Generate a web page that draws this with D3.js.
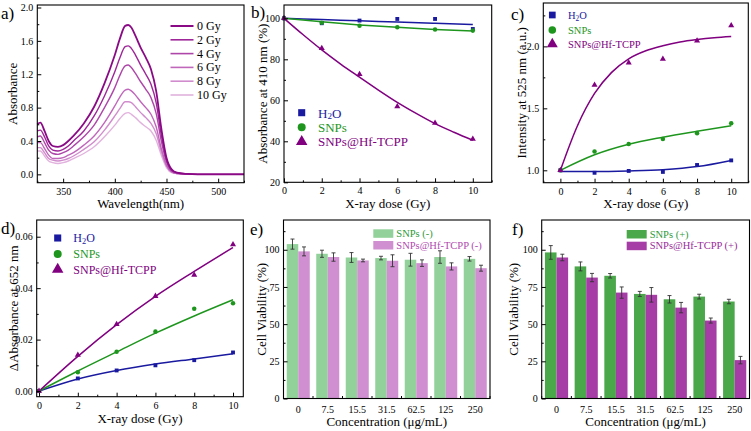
<!DOCTYPE html>
<html><head><meta charset="utf-8">
<script src="https://cdn.jsdelivr.net/npm/d3@7"></script>
<style>
body{margin:0;background:#fff;}
svg{display:block;font-family:"Liberation Serif","Times New Roman",serif;}
</style></head><body>
<svg id="chart" width="751" height="431"></svg>
<script>
// ---------- DATA ----------
// (a) UV-vis spectra
const wavelengths = [325,328,332,336,340,345,350,355,360,370,380,390,400,405,410,413,416,420,425,430,435,440,445,450,455,460,470,480,500,525];
const spectraLabels = ["0 Gy","2 Gy","4 Gy","6 Gy","8 Gy","10 Gy"];
const abs0Gy  = [0.60,0.62,0.52,0.40,0.34,0.33,0.35,0.40,0.46,0.61,0.81,1.09,1.43,1.63,1.78,1.79,1.76,1.66,1.52,1.40,1.26,1.00,0.55,0.20,0.06,0.02,0.005,0,0,0];
const abs2Gy  = [0.52,0.53,0.45,0.34,0.29,0.28,0.30,0.34,0.40,0.52,0.70,0.94,1.23,1.40,1.53,1.54,1.51,1.43,1.31,1.20,1.08,0.86,0.47,0.17,0.05,0.02,0.004,0,0,0];
const abs4Gy  = [0.45,0.46,0.38,0.29,0.25,0.24,0.26,0.29,0.34,0.45,0.59,0.80,1.04,1.19,1.30,1.31,1.28,1.21,1.11,1.02,0.92,0.73,0.40,0.15,0.04,0.015,0.004,0,0,0];
const abs6Gy  = [0.38,0.38,0.31,0.23,0.19,0.19,0.20,0.23,0.26,0.35,0.46,0.62,0.82,0.93,1.01,1.02,1.00,0.95,0.87,0.80,0.72,0.57,0.31,0.11,0.03,0.01,0.003,0,0,0];
const abs8Gy  = [0.32,0.32,0.26,0.19,0.17,0.16,0.17,0.19,0.22,0.30,0.39,0.53,0.70,0.79,0.87,0.87,0.86,0.81,0.74,0.68,0.61,0.49,0.27,0.10,0.03,0.01,0.002,0,0,0];
const abs10Gy = [0.28,0.28,0.22,0.16,0.14,0.13,0.14,0.16,0.19,0.25,0.33,0.45,0.59,0.67,0.73,0.74,0.72,0.68,0.62,0.57,0.52,0.41,0.23,0.08,0.02,0.01,0.002,0,0,0];

// X-ray doses
const doses = [0,2,4,6,8,10];
const fitDoses = [0,1,2,3,4,5,6,7,8,9,10];
const seriesNames = ["H2O","SNPs","SNPs@Hf-TCPP"];

// (b) Absorbance at 410 nm (%)
const bH2O  = [100, 97.6, 98.9, 99.7, 99.7, 94.8];
const bSNPs = [100, 97.8, 96.4, 95.6, 94.5, 94.0];
const bHf   = [100, 85.4, 72.7, 57.0, 48.9, 41.1];
const bFitH2O  = [100, 99.4, 98.8, 98.2, 97.6, 97.0];
const bFitSNPs = [100, 98.3, 96.8, 95.6, 94.6, 93.8];
const bFitHf   = [100, 92.1, 84.6, 77.7, 71.3, 65.0, 59.0, 53.6, 48.6, 44.4, 40.5];

// (c) Intensity at 525 nm
const cH2O  = [1.0, 0.98, 0.995, 0.987, 1.043, 1.08];
const cSNPs = [1.0, 1.152, 1.213, 1.253, 1.30, 1.379];
const cHf   = [1.0, 1.688, 1.867, 1.899, 2.045, 2.168];
const cFitH2O  = [0.99, 0.99, 0.995, 1.005, 1.03, 1.08];
const cFitSNPs = [1.0, 1.125, 1.21, 1.267, 1.315, 1.36];
const cFitHf   = [1.0, 1.36, 1.62, 1.79, 1.90, 1.965, 2.005, 2.035, 2.055, 2.07, 2.08];

// (d) ΔAbsorbance at 652 nm
const dH2O  = [0, 0.0049, 0.008, 0.010, 0.012, 0.015];
const dSNPs = [0, 0.0073, 0.0153, 0.0231, 0.032, 0.0341];
const dHf   = [0, 0.014, 0.026, 0.0369, 0.0451, 0.057];
const dFitH2O  = [0, 0.0047, 0.0080, 0.0105, 0.0125, 0.0145];
const dFitSNPs = [0, 0.0078, 0.0152, 0.0225, 0.0292, 0.0355];
const dFitHf   = [0, 0.0135, 0.0258, 0.0368, 0.0465, 0.0558];

// (e),(f) Cell viability
const concentrations = ["0","7.5","15.5","31.5","62.5","125","250"];
const eSNPs = [103.8, 97.3, 94.8, 94.4, 93.3, 95.1, 93.9];
const eSNPsErr = [3.4, 2.4, 3.3, 1.2, 4.3, 4.2, 1.5];
const eHf = [98.9, 95.1, 92.8, 92.6, 91.0, 88.8, 87.6];
const eHfErr = [3.0, 2.8, 0.9, 4.0, 2.2, 2.4, 2.0];
const fSNPs = [98.2, 88.8, 82.5, 70.3, 66.7, 68.5, 65.2];
const fSNPsErr = [4.6, 3.0, 1.5, 1.7, 2.5, 1.6, 1.5];
const fHf = [94.8, 81.3, 71.2, 69.7, 61.1, 52.4, 25.8];
const fHfErr = [2.2, 2.8, 3.8, 4.9, 3.5, 1.7, 2.5];

// Tick labels
const aXTicks = [350,400,450,500], aYTicks = [0,0.4,0.8,1.2,1.6,2.0];
const doseTicks = [0,2,4,6,8,10];
const bYTicks = [20,40,60,80,100];
const cYTicks = [1.0,1.5,2.0];
const dYTicks = [0,0.02,0.04,0.06];
const viaTicks = [0,25,50,75,100];

// ---------- STYLE ----------
const BLUE = "#1a1aa0", GREEN = "#1e961e", PURPLE = "#800080";
const specColors = ["#8a0a86","#9e2699","#ae46a9","#c066bb","#d18ccd","#e2b2de"];
const svg = d3.select("#chart");

function axes(g, x, y, o) {
  const [xl, xr] = x.range(), [yb, yt] = y.range();
  const st = s => { s.select(".domain").remove(); s.attr("font-family", null).attr("font-size", 10);
    s.selectAll("text").attr("fill", "#000"); s.selectAll("line").attr("stroke", "#000"); };
  if (o.xMajor) {
    g.append("g").attr("transform", `translate(0,${yb})`)
      .call(d3.axisBottom(x).tickValues(o.xMajor).tickSize(-4).tickPadding(5).tickFormat(o.xFmt || d3.format("d"))).call(st);
    g.append("g").attr("transform", `translate(0,${yb})`)
      .call(d3.axisBottom(x).tickValues(o.xMinor).tickSize(-2).tickFormat("")).call(st);
  }
  g.append("g").attr("transform", `translate(${xl},0)`)
    .call(d3.axisLeft(y).tickValues(o.yMajor).tickSize(-4).tickPadding(4).tickFormat(o.yFmt)).call(st);
  g.append("g").attr("transform", `translate(${xl},0)`)
    .call(d3.axisLeft(y).tickValues(o.yMinor).tickSize(-2).tickFormat("")).call(st);
  g.append("rect").attr("x", xl).attr("y", yt).attr("width", xr - xl).attr("height", yb - yt)
    .attr("fill", "none").attr("stroke", "#000").attr("stroke-width", 1.1);
  g.append("text").attr("x", (xl + xr) / 2).attr("y", o.xTitleY).attr("text-anchor", "middle")
    .attr("font-size", 13).text(o.xTitle);
  g.append("text").attr("transform", `translate(${o.yTitleX},${(yt + yb) / 2}) rotate(-90)`)
    .attr("text-anchor", "middle").attr("dominant-baseline", "central").attr("font-size", 13).text(o.yTitle);
}
function panelLabel(x, y, t) {
  svg.append("text").attr("x", x).attr("y", y).attr("font-size", 17).text(t);
}
function h2oText(sel) {
  sel.append("tspan").text("H");
  sel.append("tspan").text("2").attr("font-size", "0.7em").attr("dy", 3);
  sel.append("tspan").text("O").attr("dy", -3);
}
const symTypes = [d3.symbolSquare, d3.symbolCircle, d3.symbolTriangle];
const symSizes = [15, 16, 16];
const serColors = [BLUE, GREEN, PURPLE];

function doseLegend(g, sx, tx, ys, fs, symSize) {
  seriesNames.forEach((n, i) => {
    g.append("path").attr("d", d3.symbol().type(symTypes[i]).size(symSize * (i === 2 ? 1.15 : 1))())
      .attr("transform", `translate(${sx},${ys[i]})`).attr("fill", serColors[i]);
    const t = g.append("text").attr("x", tx).attr("y", ys[i]).attr("dominant-baseline", "central")
      .attr("font-size", fs).attr("fill", serColors[i]);
    if (i === 0) h2oText(t); else t.text(n);
  });
}
function dosePanel(g, x, y, pts, fits, fitXs) {
  const line = d3.line().x(d => x(d[0])).y(d => y(d[1])).curve(d3.curveMonotoneX);
  fits.forEach((f, i) => {
    g.append("path").datum(fitXs[i].map((d, k) => [d, f[k]])).attr("d", line)
      .attr("fill", "none").attr("stroke", serColors[i]).attr("stroke-width", 1.5);
  });
  pts.forEach((p, i) => {
    g.selectAll(null).data(p).join("path")
      .attr("d", d3.symbol().type(symTypes[i]).size(symSizes[i]))
      .attr("transform", (d, k) => `translate(${x(doses[k])},${y(d)})`).attr("fill", serColors[i]);
  });
}

// ---------- PANEL A ----------
{
  const g = svg.append("g");
  const x = d3.scaleLinear().domain([325, 525]).range([37.3, 244]);
  const y = d3.scaleLinear().domain([-0.1, 2.03]).range([182.7, 5]);
  const spectra = [abs0Gy, abs2Gy, abs4Gy, abs6Gy, abs8Gy, abs10Gy];
  const line = d3.line().x((d, k) => x(wavelengths[k])).y(d => y(d)).curve(d3.curveMonotoneX);
  spectra.slice().reverse().forEach((s, ri) => {
    const i = spectra.length - 1 - ri;
    g.append("path").datum(s).attr("d", line).attr("fill", "none")
      .attr("stroke", specColors[i]).attr("stroke-width", i === 0 ? 1.8 : 1.4);
  });
  axes(g, x, y, { xMajor: aXTicks, xMinor: [325,375,425,475,525], yMajor: aYTicks,
    yMinor: [0.2,0.6,1.0,1.4,1.8], yFmt: d3.format(".1f"),
    xTitle: "Wavelength(nm)", xTitleY: 208, yTitle: "Absorbance", yTitleX: 12 });
  spectraLabels.forEach((l, i) => {
    const yy = 26 + i * 13.8;
    g.append("line").attr("x1", 170.5).attr("x2", 193.5).attr("y1", yy).attr("y2", yy)
      .attr("stroke", specColors[i]).attr("stroke-width", i === 0 ? 2 : 1.6);
    g.append("text").attr("x", 197).attr("y", yy).attr("dominant-baseline", "central")
      .attr("font-size", 12).text(l);
  });
  panelLabel(1, 19, "a)");
}

// ---------- PANEL B ----------
{
  const g = svg.append("g");
  const x = d3.scaleLinear().domain([0, 11]).range([284, 491.7]);
  const y = d3.scaleLinear().domain([20, 106.5]).range([182.3, 5]);
  dosePanel(g, x, y, [bH2O, bSNPs, bHf], [bFitH2O, bFitSNPs, bFitHf], [doses, doses, fitDoses]);
  axes(g, x, y, { xMajor: doseTicks, xMinor: [1,3,5,7,9,11], yMajor: bYTicks,
    yMinor: [30,50,70,90], yFmt: d3.format("d"),
    xTitle: "X-ray dose (Gy)", xTitleY: 208, yTitle: "Absorbance at 410 nm (%)", yTitleX: 262 });
  doseLegend(g, 301.7, 318, [112.7, 127.3, 141.7], 13, 50);
  panelLabel(251, 18, "b)");
}

// ---------- PANEL C ----------
{
  const g = svg.append("g");
  const x = d3.scaleLinear().domain([-1, 11]).range([543.3, 748.3]);
  const y = d3.scaleLinear().domain([0.9, 2.35]).range([182.7, 3]);
  dosePanel(g, x, y, [cH2O, cSNPs, cHf], [cFitH2O, cFitSNPs, cFitHf], [doses, doses, fitDoses]);
  axes(g, x, y, { xMajor: doseTicks, xMinor: [-1,1,3,5,7,9,11], yMajor: cYTicks,
    yMinor: [1.25,1.75,2.25], yFmt: d3.format(".1f"),
    xTitle: "X-ray dose (Gy)", xTitleY: 208, yTitle: "Intensity at 525 nm (a.u.)", yTitleX: 521 });
  doseLegend(g, 552.3, 568, [15, 30, 44], 10.5, 45);
  panelLabel(511, 20, "c)");
}

// ---------- PANEL D ----------
{
  const g = svg.append("g");
  const x = d3.scaleLinear().domain([-0.12, 10.53]).range([36.7, 243.3]);
  const y = d3.scaleLinear().domain([-0.0022, 0.0665]).range([396.7, 220]);
  dosePanel(g, x, y, [dH2O, dSNPs, dHf], [dFitH2O, dFitSNPs, dFitHf], [doses, doses, doses]);
  axes(g, x, y, { xMajor: doseTicks, xMinor: [1,3,5,7,9], yMajor: dYTicks,
    yMinor: [0.01,0.03,0.05], yFmt: d3.format(".2f"),
    xTitle: "X-ray dose (Gy)", xTitleY: 423, yTitle: "\u0394Absorbance at 652 nm", yTitleX: 13 });
  doseLegend(g, 57.7, 73.3, [238, 254, 269.5], 12, 50);
  panelLabel(1, 234, "d)");
}

// ---------- PANELS E, F ----------
function barPanel(left, right, a, aErr, b, bErr, colA, colB, txtA, txtB, names, leg, title, labX, labText) {
  const g = svg.append("g");
  const x = d3.scaleBand().domain(concentrations).range([left, right]).paddingInner(0.22).paddingOuter(0.11);
  const sub = d3.scaleBand().domain([0, 1]).range([0, x.bandwidth()]);
  const y = d3.scaleLinear().domain([0, 120]).range([398.5, 220]);
  [[a, aErr, colA], [b, bErr, colB]].forEach(([vals, errs, col], si) => {
    g.selectAll(null).data(vals).join("rect")
      .attr("x", (d, k) => x(concentrations[k]) + sub(si)).attr("width", sub.bandwidth())
      .attr("y", d => y(d)).attr("height", d => y(0) - y(d)).attr("fill", col);
    const eg = g.append("g").attr("stroke", "#333").attr("stroke-width", 0.9);
    vals.forEach((v, k) => {
      const cx = x(concentrations[k]) + sub(si) + sub.bandwidth() / 2;
      eg.append("line").attr("x1", cx).attr("x2", cx).attr("y1", y(v + errs[k])).attr("y2", y(v - errs[k]));
      eg.append("line").attr("x1", cx - 2).attr("x2", cx + 2).attr("y1", y(v + errs[k])).attr("y2", y(v + errs[k]));
      eg.append("line").attr("x1", cx - 2).attr("x2", cx + 2).attr("y1", y(v - errs[k])).attr("y2", y(v - errs[k]));
    });
  });
  g.append("g").attr("transform", `translate(0,398.5)`)
    .call(d3.axisBottom(x).tickSize(0).tickPadding(7))
    .call(s => { s.select(".domain").remove(); s.attr("font-family", null).attr("font-size", 10); s.selectAll("text").attr("fill", "#000"); });
  const half = (x.step() - x.bandwidth()) / 2;
  const bounds = concentrations.map(c => x(c) - half).concat([x(concentrations[concentrations.length - 1]) + x.bandwidth() + half]);
  g.append("g").selectAll("line").data(bounds).join("line")
    .attr("x1", d => d).attr("x2", d => d).attr("y1", 398.5).attr("y2", 396).attr("stroke", "#000");
  const xl = d3.scaleLinear().domain([0, 1]).range([left, right]);
  axes(g, xl, y, { yMajor: viaTicks, yMinor: [12.5,37.5,62.5,87.5,112.5], yFmt: d3.format("d"),
    xTitle: "Concentration (\u03bcg/mL)", xTitleY: 426, yTitle: "Cell Viability (%)", yTitleX: title });
  names.forEach((n, i) => {
    const yy = leg.y + i * 11.7;
    g.append("rect").attr("x", leg.x).attr("y", yy - 4).attr("width", 20).attr("height", 8.5)
      .attr("fill", i ? colB : colA);
    g.append("text").attr("x", leg.x + 23).attr("y", yy).attr("dominant-baseline", "central")
      .attr("font-size", 10.5).attr("fill", i ? txtB : txtA).text(n);
  });
  panelLabel(labX, 235, labText);
}
barPanel(283.5, 490, eSNPs, eSNPsErr, eHf, eHfErr, "#92d29a", "#cf8fd0", "#2e9a3a", "#b04ab0",
  ["SNPs (-)", "SNPs@Hf-TCPP (-)"], { x: 373.3, y: 233.3 }, 261.5, 250, "e)");
barPanel(541.7, 749.5, fSNPs, fSNPsErr, fHf, fHfErr, "#4aa84a", "#a63ca6", "#2e9a3a", "#9a2a9a",
  ["SNPs (+)", "SNPs@Hf-TCPP (+)"], { x: 626.7, y: 234 }, 513.5, 512, "f)");
</script>
</body></html>
